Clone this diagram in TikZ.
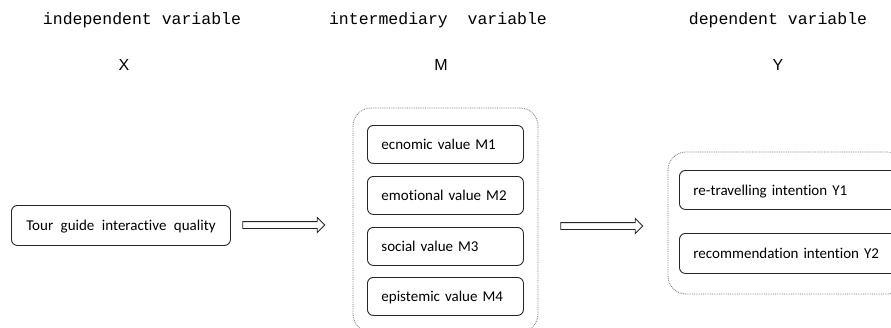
\documentclass[tikz,border=0pt]{standalone}
\usepackage{fontspec}
\setmainfont{Carlito}[Ligatures=NoCommon]
\newfontfamily\hdrfont{Liberation Mono}
\newfontfamily\letfont{Liberation Sans}
\usetikzlibrary{shapes.arrows,calc}
\begin{document}
\begin{tikzpicture}[x=1pt,y=-1pt,
  hdr/.style={font=\hdrfont\fontsize{16.5}{18}\selectfont, anchor=center, inner sep=0},
  letr/.style={font=\letfont\fontsize{16}{18}\selectfont, anchor=center, inner sep=0},
  itembox/.style={draw=black!85, line width=0.9pt, rounded corners=6pt, font=\fontsize{15}{17}\selectfont, anchor=north west, inner sep=0, text depth=0},
  groupbox/.style={draw=black!55, line width=0.8pt, densely dotted, rounded corners=18pt},
  bigarrow/.style={single arrow, draw=black!85, line width=0.9pt, fill=white, minimum height=82pt, minimum width=14pt, single arrow head extend=4pt, inner sep=3pt, single arrow tip angle=90}
]
\useasboundingbox (0,0) rectangle (891,327);
\fill[white] (0,0) rectangle (891,327);

\node[hdr] (hx) at (142,20) {independent variable};
\node[hdr] (hm) at (438,20) {intermediary\ \ variable};
\node[hdr] (hy) at (778,20) {dependent variable};
\node[letr] (lx) at (124,65) {X};
\node[letr] (lm) at (441,65) {M};
\node[letr] (ly) at (778,65) {Y};

% M group
\draw[groupbox] (353,108) rectangle (538,332);
\coordinate (mgw) at (353,226);
% Y group
\draw[groupbox] (668,152) rectangle (905,294);
\coordinate (ygw) at (668,226);

\node[itembox, minimum width=219pt, minimum height=40pt] (tour) at (11,205) {Tour\hspace{0.5em}guide\hspace{0.5em}interactive\hspace{0.5em}quality};

\node[itembox, minimum width=156pt, minimum height=38pt, text width=128pt, align=left] (m1) at (367,125) {ecnomic value M1};
\node[itembox, minimum width=156pt, minimum height=38pt, text width=128pt, align=left] (m2) at (367,176) {emotional value M2};
\node[itembox, minimum width=156pt, minimum height=38pt, text width=128pt, align=left] (m3) at (367,227) {social value M3};
\node[itembox, minimum width=156pt, minimum height=38pt, text width=128pt, align=left] (m4) at (367,277) {epistemic value M4};

\node[itembox, minimum width=220pt, minimum height=39pt, text width=192pt, align=left] (y1) at (679,170) {re-travelling intention Y1};
\node[itembox, minimum width=220pt, minimum height=40pt, text width=192pt, align=left] (y2) at (679,233) {recommendation intention Y2};

\node[bigarrow] (a1) at (282,225) {};
\node[bigarrow] (a2) at (600,226) {};
\end{tikzpicture}
\end{document}
